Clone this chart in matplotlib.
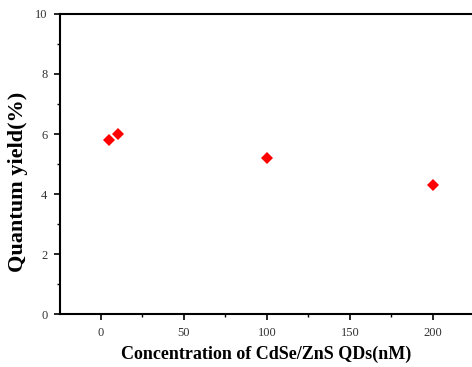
import matplotlib
matplotlib.use("Agg")
import matplotlib.pyplot as plt
from matplotlib.ticker import MultipleLocator

# data
concentration = [5, 10, 100, 200]
quantum_yield = [5.8, 6.0, 5.2, 4.3]

plt.rcParams['font.family'] = ['Liberation Serif', 'DejaVu Serif']

fig = plt.figure(figsize=(4.72, 3.67), dpi=100)
ax = fig.add_axes([0.127, 0.144, 0.873, 0.818])

ax.plot(concentration, quantum_yield, linestyle='none', marker='D',
        markersize=6.5, color='#ff0000', markeredgewidth=0)

ax.set_xlim(-24.7, 223.5)
ax.set_ylim(0, 10)
ax.xaxis.set_major_locator(MultipleLocator(50))
ax.xaxis.set_minor_locator(MultipleLocator(25))
ax.yaxis.set_major_locator(MultipleLocator(2))
ax.yaxis.set_minor_locator(MultipleLocator(1))

for side in ['left', 'bottom', 'top']:
    ax.spines[side].set_linewidth(1.5)
ax.spines['right'].set_visible(False)

ax.tick_params(which='major', direction='out', length=4, width=1.2,
               labelsize=9, labelcolor='#333333', pad=5)
ax.tick_params(which='minor', direction='out', length=2.5, width=1.0)
ax.tick_params(axis='x', which='both', top=False)

ax.set_xlabel("Concentration of CdSe/ZnS QDs(nM)", fontsize=13,
              fontweight='bold', labelpad=5)
ax.set_ylabel("Quantum yield(%)", fontsize=16, fontweight='bold')
ax.yaxis.set_label_coords(-0.077, 0.44)

fig.savefig("out.png", dpi=100)
